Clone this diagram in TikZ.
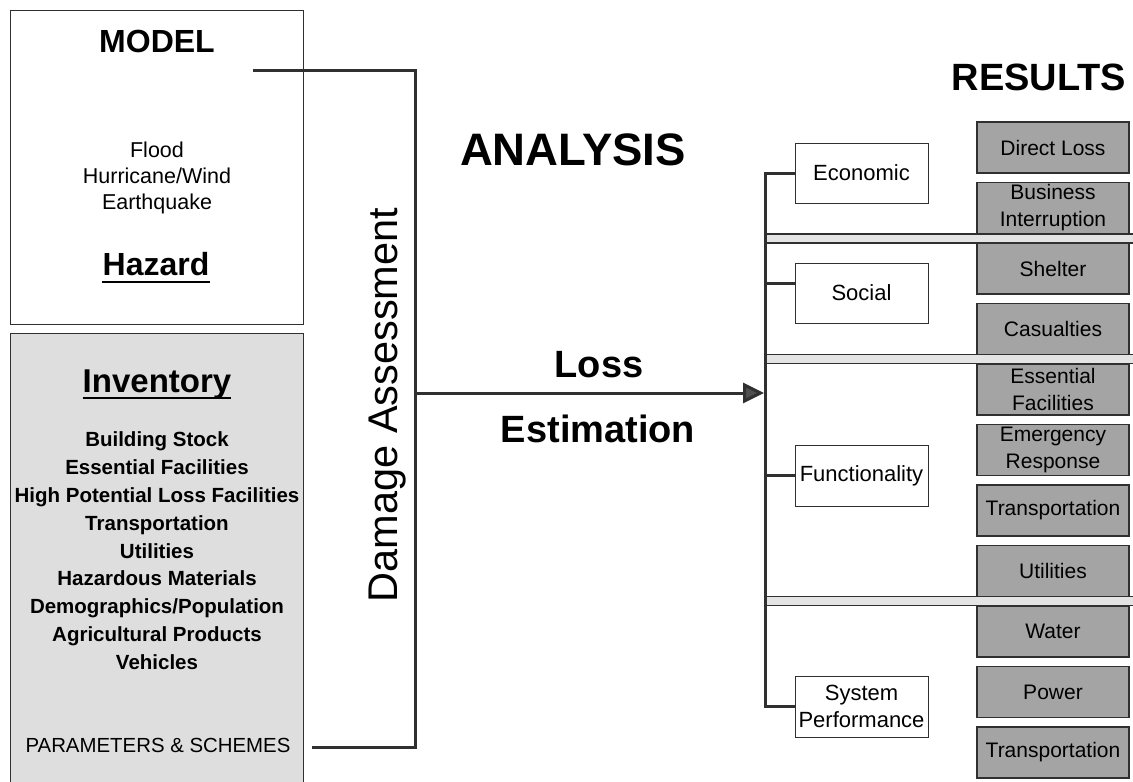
\documentclass[tikz,border=0pt]{standalone}
\usepackage{fontspec}
\setmainfont{Liberation Sans}
\usetikzlibrary{arrows.meta}
\definecolor{ln}{HTML}{303030}
\definecolor{resfill}{HTML}{A4A4A4}
\definecolor{invfill}{HTML}{DEDEDE}
\definecolor{sepfill}{HTML}{E4E4E4}
\begin{document}
\begin{tikzpicture}[x=1pt,y=-1pt,
  conn/.style={draw=ln,line width=3pt,line join=miter},
  txt/.style={inner sep=0pt,anchor=base},
  whitebox/.style={draw=ln,line width=1pt,fill=white,minimum width=133pt,minimum height=60pt,inner sep=1pt,align=center,font=\fontsize{22}{27}\selectfont},
  resbox/.style={draw=ln,line width=1.6pt,fill=resfill,minimum width=152pt,minimum height=51pt,inner sep=0pt,align=center,font=\fontsize{21}{27}\selectfont},
  invitem/.style={txt,font=\fontsize{20.5}{20.5}\bfseries},
  hazitem/.style={txt,font=\fontsize{21.5}{21.5}\selectfont},
  big/.style={txt,font=\fontsize{38}{38}\bfseries}]
\useasboundingbox (0,0) rectangle (1133,782);
\fill[white] (0,0) rectangle (1133,782);

% left boxes
\node[draw=ln,line width=1pt,minimum width=293pt,minimum height=314pt,inner sep=0pt] (model) at (156.5,167) {};
\node[draw=ln,line width=1pt,fill=invfill,minimum width=293pt,minimum height=452pt,inner sep=0pt] (inv) at (156.5,559) {};

\node[txt,font=\fontsize{32}{32}\bfseries] (modeltxt) at (157,52) {MODEL};
\foreach \t [count=\i] in {Flood,Hurricane/Wind,Earthquake}
  \node[hazitem] (haz\i) at (157,131+26.3*\i) {\t};
\node[txt,font=\fontsize{32}{32}\bfseries] (hazard) at (156,275) {Hazard};
\draw[line width=2.2pt] ([yshift=-7pt]hazard.base west) -- ([yshift=-7pt]hazard.base east);

\node[txt,font=\fontsize{33}{33}\bfseries] (invtitle) at (157,392) {Inventory};
\draw[line width=2.2pt] ([yshift=-6pt]invtitle.base west) -- ([yshift=-6pt]invtitle.base east);
\foreach \t [count=\i] in {Building Stock,Essential Facilities,High Potential Loss Facilities,Transportation,Utilities,Hazardous Materials,Demographics/Population,Agricultural Products,Vehicles}
  \node[invitem] (inv\i) at (157,419+27.8*\i) {\t};
\node[txt,font=\fontsize{20.4}{20.4}\selectfont] (params) at (158,752) {PARAMETERS \& SCHEMES};

% bracket
\coordinate (mstart) at (253,70);
\coordinate (pstart) at (312,747);
\coordinate (jn) at (415,393);
\draw[conn] (mstart) -| (jn) |- (pstart);
\node[txt,rotate=90,font=\fontsize{41.5}{41.5}\selectfont] (dmg) at (397,405) {Damage Assessment};

% titles
\node[txt,font=\fontsize{45.5}{45.5}\bfseries] (analysis) at (573,165) {ANALYSIS};
\node[txt,font=\fontsize{38}{38}\bfseries] (results) at (1039,90) {RESULTS};
\node[big] (loss) at (599,377) {Loss};
\node[big] (estim) at (598,442) {Estimation};

% result boxes
\foreach \t [count=\i from 0] in {Direct Loss,{Business\\Interruption},Shelter,Casualties,{Essential\\Facilities},{Emergency\\Response},Transportation,Utilities,Water,Power,Transportation}
  \node[resbox] (r\i) at (1053,147.5+60.5*\i) {\t};

% separators
\foreach \y in {238.5,359,601} {
  \fill[sepfill] (765,\y-4.5) rectangle (1133,\y+4.5);
  \draw[ln,line width=1.6pt] (765,\y-4.5) -- (1133,\y-4.5);
  \draw[ln,line width=1.6pt] (765,\y+4.5) -- (1133,\y+4.5);
}

% category boxes
\node[whitebox] (econ) at (861.5,173) {Economic};
\node[whitebox] (social) at (861.5,293) {Social};
\node[whitebox,minimum height=61pt] (func) at (861.5,475.5) {Functionality};
\node[whitebox,minimum height=61pt] (sys) at (861.5,706.5) {System\\Performance};

% trunk
\coordinate (tt) at (765,173);
\coordinate (tb) at (765,706.5);
\coordinate (tip) at (764,393);
\draw[conn] (econ.west) -- (tt) -- (tb) -- (sys.west);
\draw[conn] ([yshift=10pt]social.west) -- ([yshift=10pt]social.west -| tt);
\draw[conn] (func.west) -- (func.west -| tt);

% main arrow
\draw[conn,-{Triangle[length=21pt,width=20pt,fill=ln!85]}] (jn) -- (tip);
\end{tikzpicture}
\end{document}
